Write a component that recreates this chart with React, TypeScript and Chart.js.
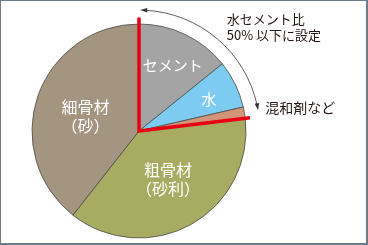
import React, { useEffect, useRef } from 'react';
import { Chart, registerables } from 'chart.js';

Chart.register(...registerables);

// ---- data ----
const categories = ['セメント', '水', '混和剤など', '粗骨材（砂利）', '細骨材（砂）'];
const shares = [14.2, 7.2, 1.7, 37.5, 39.4];
const sliceColors = ['#a4a4a4', '#7dcbf0', '#d3957a', '#a7ac62', '#a39580'];
const sliceLabelLines: string[][] = [['セメント'], ['水'], [], ['粗骨材', '（砂利）'], ['細骨材', '（砂）']];
const bracketNote = ['水セメント比', '50% 以下に設定'];
const sideNote = '混和剤など';

// ---- label placement (style) ----
// [fraction along slice angle, fraction of radius, font size]
const labelPlacement: [number, number, number][] = [
  [0.53, 0.69, 15],
  [0.55, 0.72, 15],
  [0.5, 0.6, 15],
  [0.49, 0.53, 16],
  [0.475, 0.52, 16],
];

const FONT = '"Noto Sans CJK JP", "Noto Sans", sans-serif';
const TEXT_DARK = '#231815';

function arrowHead(ctx: CanvasRenderingContext2D, tx: number, ty: number, dx: number, dy: number, len: number, wid: number) {
  const nx = -dy, ny = dx;
  ctx.beginPath();
  ctx.moveTo(tx, ty);
  ctx.lineTo(tx - dx * len + nx * wid / 2, ty - dy * len + ny * wid / 2);
  ctx.lineTo(tx - dx * len - nx * wid / 2, ty - dy * len - ny * wid / 2);
  ctx.closePath();
  ctx.fill();
}

export default function App() {
  const ref = useRef<HTMLCanvasElement>(null);

  useEffect(() => {
    document.body.style.margin = '0';
    const canvas = ref.current!;

    const overlay = {
      id: 'overlay',
      beforeDraw(chart: any) {
        const ctx = chart.ctx as CanvasRenderingContext2D;
        ctx.save();
        ctx.fillStyle = '#ffffff';
        ctx.fillRect(0, 0, chart.width, chart.height);
        ctx.restore();
      },
      afterDatasetsDraw(chart: any) {
        const ctx = chart.ctx as CanvasRenderingContext2D;
        const arcs = chart.getDatasetMeta(0).data as any[];
        const a0 = arcs[0].getProps(['x', 'y', 'outerRadius', 'startAngle', 'endAngle'], true);
        const cx = a0.x, cy = a0.y, R = a0.outerRadius;
        ctx.save();

        // slice labels
        ctx.fillStyle = '#ffffff';
        ctx.textAlign = 'center';
        ctx.textBaseline = 'middle';
        arcs.forEach((arc, i) => {
          const lines = sliceLabelLines[i];
          if (!lines || !lines.length) return;
          const p = arc.getProps(['startAngle', 'endAngle'], true);
          const [af, rf, fs] = labelPlacement[i];
          const ang = p.startAngle + (p.endAngle - p.startAngle) * af;
          const lx = cx + Math.cos(ang) * R * rf;
          const ly = cy + Math.sin(ang) * R * rf;
          ctx.font = `${fs}px ${FONT}`;
          const lh = fs * 1.2;
          lines.forEach((t, k) => {
            ctx.fillText(t, lx, ly + (k - (lines.length - 1) / 2) * lh);
          });
        });

        // red boundary lines
        const redStart = a0.startAngle;
        const redEnd = arcs[2].getProps(['endAngle'], true).endAngle;
        ctx.strokeStyle = '#e60012';
        ctx.lineWidth = 3.5;
        ctx.lineJoin = 'miter';
        ctx.lineCap = 'butt';
        ctx.beginPath();
        ctx.moveTo(cx + Math.cos(redStart) * R * 1.06, cy + Math.sin(redStart) * R * 1.06);
        ctx.lineTo(cx, cy);
        ctx.lineTo(cx + Math.cos(redEnd) * R * 1.045, cy + Math.sin(redEnd) * R * 1.045);
        ctx.stroke();

        // bracket arc with arrows
        const ar = R * 1.13;
        const p2 = arcs[2].getProps(['startAngle', 'endAngle'], true);
        const arcStart = redStart + 0.01;
        const arcEnd = (p2.startAngle + p2.endAngle) / 2;
        ctx.strokeStyle = '#333333';
        ctx.fillStyle = '#333333';
        ctx.lineWidth = 0.8;
        ctx.beginPath();
        ctx.arc(cx, cy, ar, arcStart + 0.04, arcEnd - 0.04);
        ctx.stroke();
        // top arrow (counter-clockwise direction)
        arrowHead(ctx, cx + Math.cos(arcStart) * ar, cy + Math.sin(arcStart) * ar,
          Math.sin(arcStart), -Math.cos(arcStart), 7, 4.5);
        // end arrow (clockwise direction)
        arrowHead(ctx, cx + Math.cos(arcEnd) * ar, cy + Math.sin(arcEnd) * ar,
          -Math.sin(arcEnd), Math.cos(arcEnd), 7, 4.5);

        // annotations
        ctx.fillStyle = TEXT_DARK;
        ctx.textAlign = 'left';
        ctx.textBaseline = 'middle';
        ctx.font = `13px ${FONT}`;
        ctx.fillText(bracketNote[0], cx + R * 0.82, cy - R * 1.045);
        ctx.fillText(bracketNote[1], cx + R * 0.82, cy - R * 0.895);
        ctx.font = `14px ${FONT}`;
        ctx.fillText(sideNote, cx + R * 1.18, cy - R * 0.215);

        // frame
        ctx.fillStyle = '#6f7b85';
        const W = chart.width, H = chart.height;
        ctx.fillRect(0, 0, W, 1);
        ctx.fillRect(0, 0, 1, H);
        ctx.fillRect(W - 2, 0, 2, H);
        ctx.fillRect(0, H - 2, W, 2);
        ctx.restore();
      },
    };

    const chart = new Chart(canvas, {
      type: 'pie',
      data: {
        labels: categories,
        datasets: [
          {
            data: shares,
            backgroundColor: sliceColors,
            borderColor: '#4a4a4a',
            borderWidth: 0.8,
            radius: 107,
          } as any,
        ],
      },
      options: {
        responsive: false,
        animation: false,
        rotation: 0,
        layout: { padding: { left: 32, top: 24, right: 122, bottom: 7 } },
        plugins: { legend: { display: false }, tooltip: { enabled: false } },
      },
      plugins: [overlay as any],
    });
    return () => chart.destroy();
  }, []);

  return <canvas ref={ref} width={368} height={245} style={{ display: 'block' }} />;
}
